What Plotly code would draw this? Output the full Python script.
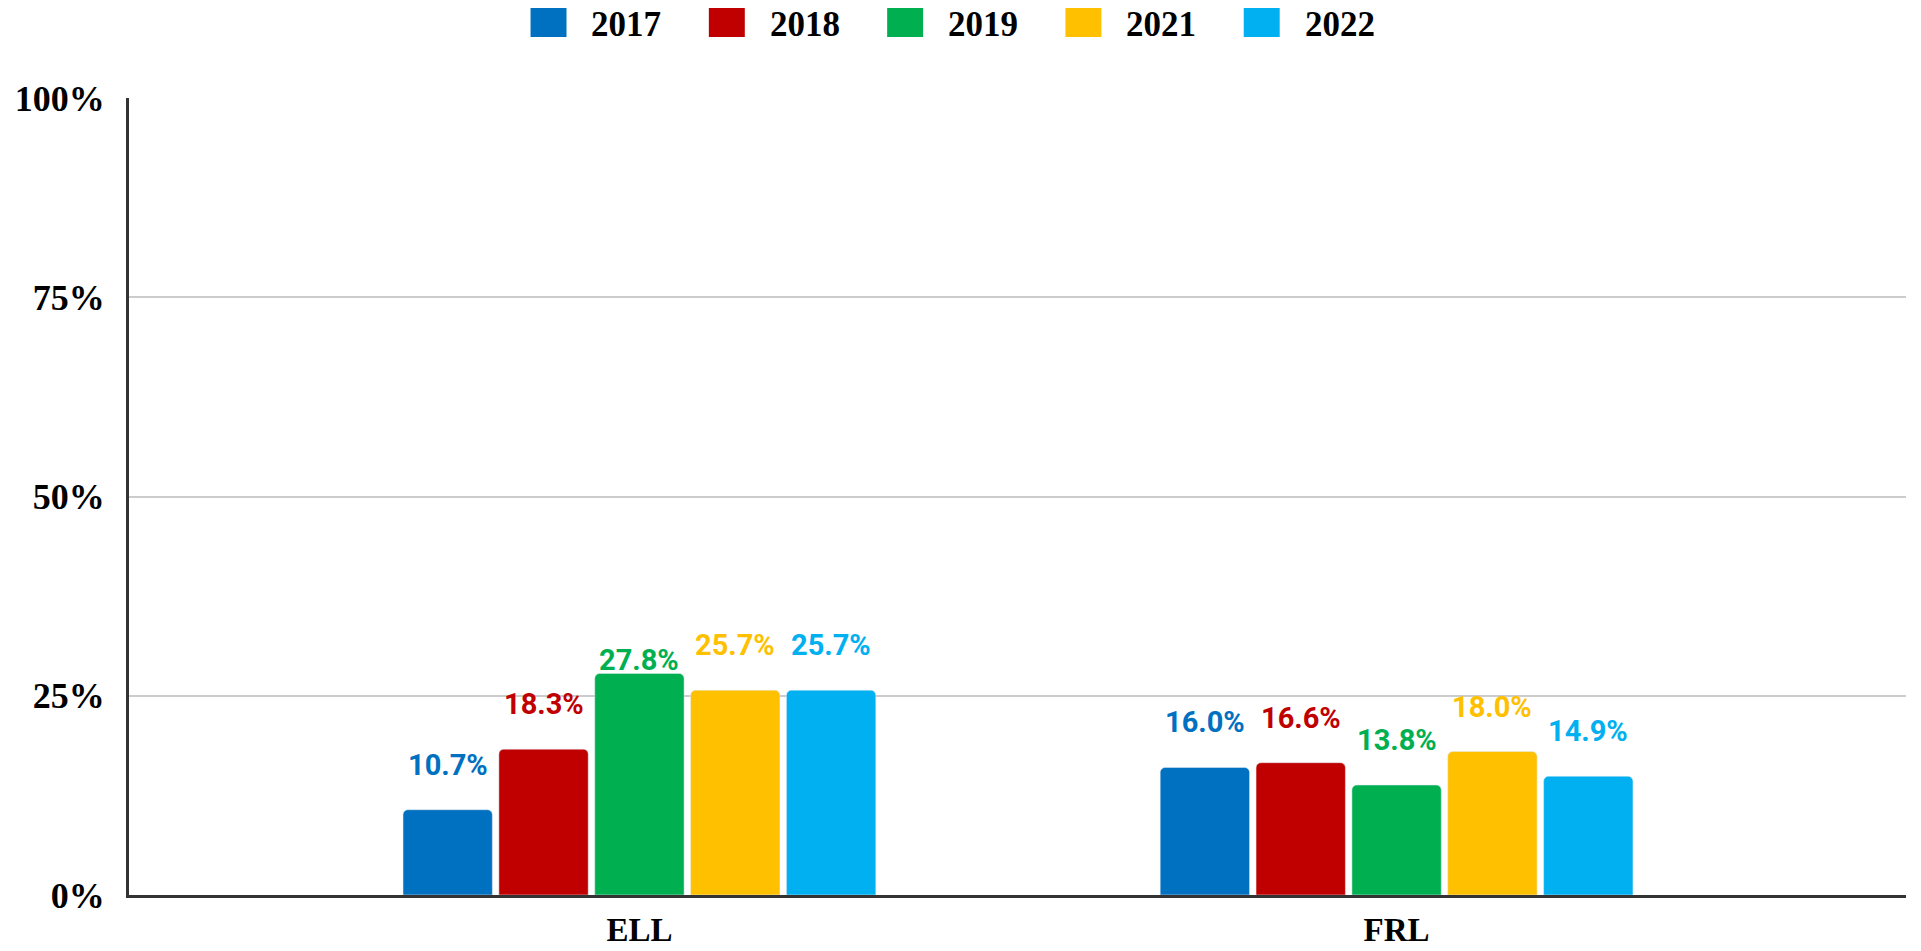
import plotly.graph_objects as go

# data
categories = ["ELL", "FRL"]
years = ["2017", "2018", "2019", "2021", "2022"]
ell_values = [10.7, 18.3, 27.8, 25.7, 25.7]
frl_values = [16.0, 16.6, 13.8, 18.0, 14.9]
colors = ["#0070C0", "#C00000", "#00B050", "#FFC000", "#00B0F0"]
y_ticks = [0, 25, 50, 75, 100]

# label nudges (px above bar top); the 27.8% label sits closer to its bar
label_lift = 45
label_lift_override = {("ELL", "2019"): 13}

serif = dict(family="Liberation Serif", weight="bold", color="#000000")
bargap = 0.367
x_pos = list(range(len(categories)))

fig = go.Figure()
for i, yr in enumerate(years):
    fig.add_trace(go.Bar(
        x=x_pos,
        y=[ell_values[i], frl_values[i]],
        name=yr,
        marker_color=colors[i],
        showlegend=False,
    ))

# data labels above bars
slot = (1 - bargap) / len(years)
annotations = []
for i, yr in enumerate(years):
    for j, cat in enumerate(categories):
        val = [ell_values[i], frl_values[i]][j]
        annotations.append(dict(
            x=x_pos[j] + (i - (len(years) - 1) / 2) * slot,
            y=val,
            xref="x", yref="y",
            text=f"{val:.1f}%",
            showarrow=False,
            yshift=label_lift_override.get((cat, yr), label_lift),
            font=dict(family="Roboto", weight="bold", size=29, color=colors[i]),
        ))

# legend drawn by hand so the swatches can be big
# (page pixel positions -> paper coords of the plot area)
plot_l, plot_w, plot_b, plot_h = 127, 1779, 895, 797
def px_x(p):
    return (p - plot_l) / plot_w
def px_y(p):
    return (plot_b - p) / plot_h

shapes = []
for i, yr in enumerate(years):
    sx = 529 + 178.5 * i
    shapes.append(dict(
        type="rect", xref="paper", yref="paper",
        x0=px_x(sx), x1=px_x(sx + 36), y0=px_y(37), y1=px_y(5),
        fillcolor=colors[i], line=dict(width=0),
    ))
    annotations.append(dict(
        x=px_x(sx + 59), y=px_y(24), xref="paper", yref="paper",
        xanchor="left", yanchor="middle", text=yr, showarrow=False,
        font=dict(serif, size=35),
    ))

# the page body has an 8px margin, so the figure is 16px smaller than the window
fig.update_layout(
    width=1905, height=935,
    margin=dict(l=121, r=7, t=90, b=48),
    plot_bgcolor="white", paper_bgcolor="white",
    barmode="group", bargap=bargap, bargroupgap=0.068,
    barcornerradius=5,
    annotations=annotations,
    shapes=shapes,
    xaxis=dict(
        range=[-0.6741, 1.6728],
        tickvals=x_pos, ticktext=categories,
        showgrid=False, zeroline=False,
        showline=True, linecolor="#333333", linewidth=3,
        tickfont=dict(serif, size=33),
        ticklabelstandoff=3,
        automargin=False,
    ),
    yaxis=dict(
        range=[0, 100],
        tickvals=y_ticks, ticktext=[f"{v}%" for v in y_ticks],
        showgrid=True, gridcolor="#cccccc", gridwidth=1.5,
        zeroline=False,
        showline=True, linecolor="#333333", linewidth=3,
        tickfont=dict(serif, size=36),
        ticklabelstandoff=14,
        automargin=False,
    ),
)

fig.write_html("out.html")
